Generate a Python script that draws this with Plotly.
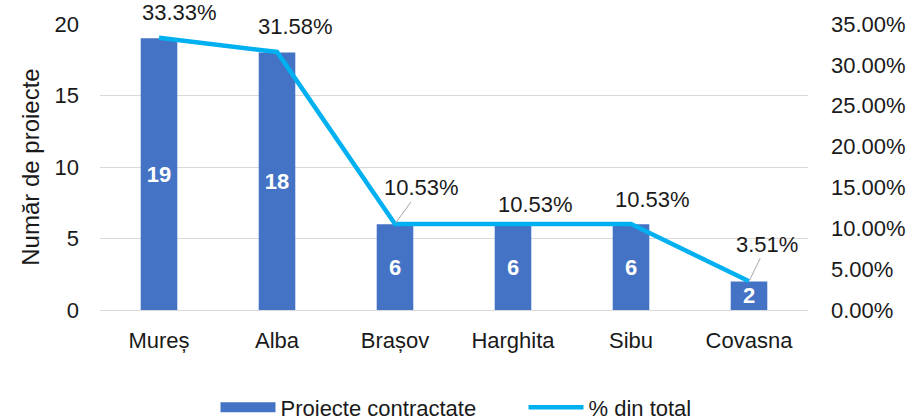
import plotly.graph_objects as go

# Contracted projects per county and their share of the total
judete = ["Mureș", "Alba", "Brașov", "Harghita", "Sibu", "Covasna"]
proiecte = [19, 18, 6, 6, 6, 2]
procente = [33.33, 31.58, 10.53, 10.53, 10.53, 3.51]

FONT = "Liberation Sans, Arial, sans-serif"
FS = 22
BAR_COLOR = "#4472C4"
LINE_COLOR = "#00B0F0"
GRID = "#D9D9D9"
TEXT = "#1a1a1a"

# label placement (pixel offsets of each label centre from its point) and leader lines
label_dx = [20, 18, 26, 22, 21, 18]
label_dy = [-25, -25, -36, -19, -24, -37]
label_leader = [False, False, True, False, False, True]

fig = go.Figure()

fig.add_trace(go.Bar(
    x=judete, y=proiecte, name="Proiecte contractate",
    legendgroup="bars", showlegend=False,
    marker=dict(color=BAR_COLOR, line=dict(width=0)),
    text=[str(v) for v in proiecte], textposition="inside",
    insidetextanchor="middle", textangle=0,
    textfont=dict(family=FONT, size=FS, color="white", weight="bold"),
    constraintext="none",
))

# wide rectangular legend swatch for the bar series
fig.add_trace(go.Scatter(
    x=[None], y=[None], name="Proiecte contractate", legendgroup="bars",
    mode="lines", line=dict(color=BAR_COLOR, width=14), hoverinfo="skip",
))

fig.add_trace(go.Scatter(
    x=judete, y=[p / 100 for p in procente], name="% din total",
    yaxis="y2", mode="lines",
    line=dict(color=LINE_COLOR, width=4.5),
))

for j, p, dx, dy, lead in zip(judete, procente, label_dx, label_dy, label_leader):
    txt = f"{p:.2f}%"
    if lead:
        fig.add_annotation(
            x=j, y=p / 100, xref="x", yref="y2", text=txt,
            showarrow=True, ax=dx, ay=dy, arrowhead=0, arrowwidth=1,
            arrowcolor="#A6A6A6", standoff=1,
            font=dict(family=FONT, size=FS, color=TEXT),
        )
    else:
        fig.add_annotation(
            x=j, y=p / 100, xref="x", yref="y2", text=txt,
            showarrow=False, xshift=dx, yshift=-dy,
            font=dict(family=FONT, size=FS, color=TEXT),
        )

fig.update_layout(
    width=923, height=420,
    margin=dict(l=100, r=115, t=24, b=110),
    paper_bgcolor="white", plot_bgcolor="white",
    bargap=0.69,
    font=dict(family=FONT, size=FS, color=TEXT),
    xaxis=dict(showgrid=False, showline=False, ticks="", automargin=False,
               ticklabelstandoff=15, tickfont=dict(size=FS)),
    yaxis=dict(range=[0, 20], dtick=5, showgrid=True, gridcolor=GRID,
               gridwidth=1.3, zeroline=True, zerolinecolor=GRID,
               zerolinewidth=1.3, ticks="", automargin=False,
               ticklabelstandoff=20,
               title=dict(text="Număr de proiecte", font=dict(size=24),
                          standoff=8),
               tickfont=dict(size=FS)),
    yaxis2=dict(range=[0, 0.35], dtick=0.05, tickformat=".2%",
                overlaying="y", side="right", showgrid=False,
                zeroline=False, ticks="", automargin=False,
                ticklabelstandoff=22, tickfont=dict(size=FS)),
    legend=dict(orientation="h", x=(224 - 100) / 708 - 0.012, xanchor="left",
                yref="container", y=0.03, yanchor="middle",
                entrywidthmode="pixels", entrywidth=238,
                font=dict(size=FS), itemwidth=55, traceorder="normal"),
    showlegend=True,
)

fig.write_html("out.html")
